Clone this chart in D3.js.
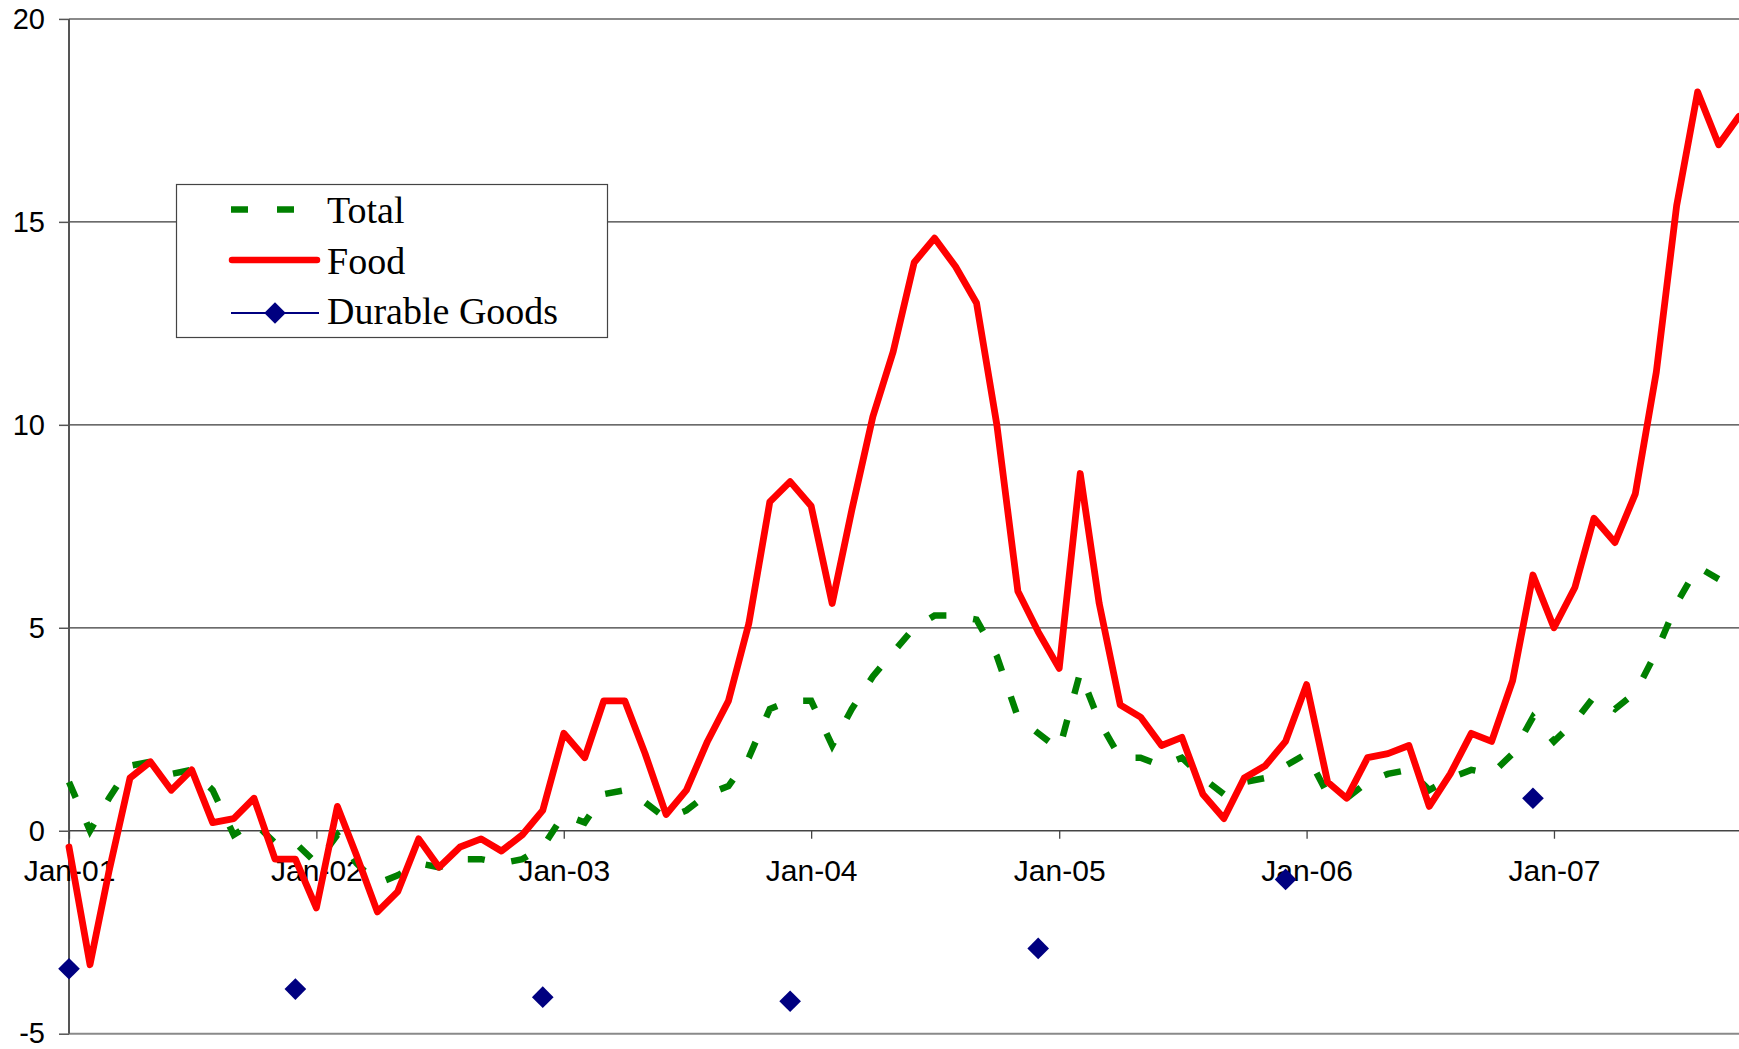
<!DOCTYPE html>
<html>
<head>
<meta charset="utf-8">
<script src="https://cdn.jsdelivr.net/npm/d3@7"></script>
<style>
  html, body { margin: 0; padding: 0; background: #ffffff; }
  svg { display: block; }
</style>
</head>
<body>
<svg id="chart" width="1739" height="1049"></svg>
<script>
// Year-on-year change (%), monthly from January 2001.
const startMonth = "2001-01";

const totalCPI = [
  1.2, 0.0, 0.8, 1.6, 1.7, 1.4, 1.5, 1.0, -0.1, 0.2, -0.3, -0.3,
  -0.8, -0.1, -0.8, -1.3, -1.1, -0.8, -0.9, -0.7, -0.7, -0.8, -0.7, -0.4,
  0.4, 0.2, 0.9, 1.0, 0.7, 0.3, 0.5, 0.9, 1.1, 1.8, 3.0, 3.2,
  3.2, 2.1, 3.0, 3.8, 4.4, 5.0, 5.3, 5.3, 5.2, 4.3, 2.8, 2.4,
  2.0, 3.9, 2.7, 1.8, 1.8, 1.6, 1.8, 1.3, 0.9, 1.2, 1.3, 1.6,
  1.9, 0.9, 0.8, 1.2, 1.4, 1.5, 1.0, 1.3, 1.5, 1.4, 1.9, 2.8,
  2.2, 2.7, 3.3, 3.0, 3.4, 4.4, 5.6, 6.5, 6.2
];

const foodCPI = [
  -0.4, -3.3, -1.0, 1.3, 1.7, 1.0, 1.5, 0.2, 0.3, 0.8, -0.7, -0.7,
  -1.9, 0.6, -0.6, -2.0, -1.5, -0.2, -0.9, -0.4, -0.2, -0.5, -0.1, 0.5,
  2.4, 1.8, 3.2, 3.2, 1.9, 0.4, 1.0, 2.2, 3.2, 5.1, 8.1, 8.6,
  8.0, 5.6, 7.9, 10.2, 11.8, 14.0, 14.6, 13.9, 13.0, 10.0, 5.9, 4.9,
  4.0, 8.8, 5.6, 3.1, 2.8, 2.1, 2.3, 0.9, 0.3, 1.3, 1.6, 2.2,
  3.6, 1.2, 0.8, 1.8, 1.9, 2.1, 0.6, 1.4, 2.4, 2.2, 3.7, 6.3,
  5.0, 6.0, 7.7, 7.1, 8.3, 11.3, 15.4, 18.2, 16.9, 17.6
];

const durableMonths = ["2001-01", "2001-12", "2002-12", "2003-12", "2004-12", "2005-12", "2006-12"];
const durableCPI = [-3.4, -3.9, -4.1, -4.2, -2.9, -1.2, 0.8];

const seriesNames = ["Total", "Food", "Durable Goods"];
const yTicks = [-5, 0, 5, 10, 15, 20];
const xTickMonths = ["2001-01", "2002-01", "2003-01", "2004-01", "2005-01", "2006-01", "2007-01"];
const xTickLabels = ["Jan-01", "Jan-02", "Jan-03", "Jan-04", "Jan-05", "Jan-06", "Jan-07"];
const xEndMonth = "2007-10";

// ---- setup ----
const parseMonth = d3.timeParse("%Y-%m");
const month0 = parseMonth(startMonth);
const monthAt = i => d3.timeMonth.offset(month0, i);

const svg = d3.select("#chart");
const sansFont = "'Liberation Sans', Arial, Helvetica, sans-serif";
const serifFont = "'Liberation Serif', 'Times New Roman', Times, serif";

const plot = { left: 69, right: 1739, top: 18.9, bottom: 1033.7 };

const x = d3.scaleTime()
  .domain([month0, parseMonth(xEndMonth)])
  .range([plot.left, plot.right]);

const y = d3.scaleLinear()
  .domain([-5, 20])
  .range([plot.bottom, plot.top]);

// ---- horizontal gridlines ----
svg.append("g")
  .selectAll("line")
  .data(yTicks.filter(v => v > 0 && v < 20))
  .join("line")
  .attr("x1", plot.left).attr("x2", plot.right)
  .attr("y1", d => y(d)).attr("y2", d => y(d))
  .attr("stroke", "#3a3a3a")
  .attr("stroke-width", 1.2);

// top and bottom edges of the plot area
svg.append("g")
  .selectAll("line")
  .data([20, -5])
  .join("line")
  .attr("x1", plot.left).attr("x2", plot.right)
  .attr("y1", d => y(d)).attr("y2", d => y(d))
  .attr("stroke", "#8a8a8a")
  .attr("stroke-width", 2);

// ---- y axis ----
const yAxis = svg.append("g")
  .attr("transform", `translate(${plot.left},0)`)
  .call(d3.axisLeft(y).tickValues(yTicks).tickSize(10).tickPadding(14).tickFormat(d => String(d)));
yAxis.select(".domain").remove();
yAxis.selectAll(".tick line").attr("stroke", "#555").attr("stroke-width", 1.5);
yAxis.selectAll(".tick text")
  .attr("fill", "#000")
  .style("font-family", sansFont)
  .style("font-size", "29px");

svg.append("line")
  .attr("x1", plot.left).attr("x2", plot.left)
  .attr("y1", plot.top).attr("y2", plot.bottom)
  .attr("stroke", "#555")
  .attr("stroke-width", 2);

// ---- x axis (crosses at zero) ----
const xTickDates = xTickMonths.map(parseMonth);
const xAxis = svg.append("g")
  .attr("transform", `translate(0,${y(0)})`)
  .call(d3.axisBottom(x)
    .tickValues(xTickDates)
    .tickSize(8)
    .tickPadding(21)
    .tickFormat((d, i) => xTickLabels[i]));
xAxis.select(".domain").remove();
xAxis.selectAll(".tick line").attr("stroke", "#444").attr("stroke-width", 1.3);
xAxis.selectAll(".tick text")
  .attr("fill", "#000")
  .style("font-family", sansFont)
  .style("font-size", "30px");

svg.append("line")
  .attr("x1", plot.left).attr("x2", plot.right)
  .attr("y1", y(0)).attr("y2", y(0))
  .attr("stroke", "#444")
  .attr("stroke-width", 1.5);

// ---- series ----
const line = d3.line()
  .x((d, i) => x(monthAt(i)))
  .y(d => y(d));

svg.append("path")
  .datum(totalCPI)
  .attr("d", line)
  .attr("fill", "none")
  .attr("stroke", "#008000")
  .attr("stroke-width", 6.5)
  .attr("stroke-dasharray", "17,27");

svg.append("path")
  .datum(foodCPI)
  .attr("d", line)
  .attr("fill", "none")
  .attr("stroke", "#ff0000")
  .attr("stroke-width", 6.8)
  .attr("stroke-linejoin", "round")
  .attr("stroke-linecap", "round");

const diamond = d3.symbol().type(d3.symbolSquare).size(235);

svg.append("g")
  .selectAll("path")
  .data(durableCPI)
  .join("path")
  .attr("d", diamond)
  .attr("transform", (d, i) => `translate(${x(parseMonth(durableMonths[i]))},${y(d)}) rotate(45)`)
  .attr("fill", "#000080");

// ---- legend ----
const legend = svg.append("g");
legend.append("rect")
  .attr("x", 176.5).attr("y", 184.5)
  .attr("width", 431).attr("height", 153)
  .attr("fill", "#fff")
  .attr("stroke", "#444")
  .attr("stroke-width", 1.2);

const rowY = [209.5, 260, 313];
const textY = [222.5, 274, 324];

legend.append("line")
  .attr("x1", 231).attr("x2", 320)
  .attr("y1", rowY[0]).attr("y2", rowY[0])
  .attr("stroke", "#008000")
  .attr("stroke-width", 6.5)
  .attr("stroke-dasharray", "17,29");

legend.append("line")
  .attr("x1", 232).attr("x2", 317)
  .attr("y1", rowY[1]).attr("y2", rowY[1])
  .attr("stroke", "#ff0000")
  .attr("stroke-width", 6.5)
  .attr("stroke-linecap", "round");

legend.append("line")
  .attr("x1", 231).attr("x2", 319)
  .attr("y1", rowY[2]).attr("y2", rowY[2])
  .attr("stroke", "#000080")
  .attr("stroke-width", 2);

legend.append("path")
  .attr("d", d3.symbol().type(d3.symbolSquare).size(230)())
  .attr("transform", `translate(275,${rowY[2]}) rotate(45)`)
  .attr("fill", "#000080");

legend.selectAll("text.label")
  .data(seriesNames)
  .join("text")
  .attr("class", "label")
  .attr("x", 327)
  .attr("y", (d, i) => textY[i])
  .style("font-family", serifFont)
  .style("font-size", "38px")
  .attr("fill", "#000")
  .text(d => d);
</script>
</body>
</html>
